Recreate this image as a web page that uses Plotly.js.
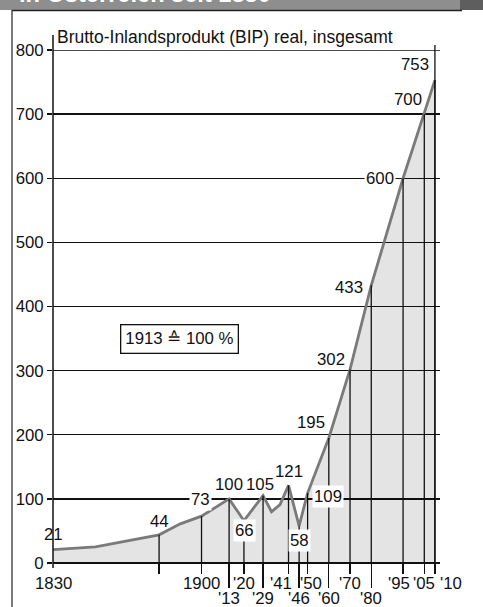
<!DOCTYPE html>
<html><head><meta charset="utf-8">
<script src="https://cdn.plot.ly/plotly-3.0.1.min.js"></script>
<style>html,body{margin:0;padding:0;background:#fff;}#chart{width:483px;height:607px;}</style>
</head><body><div id="chart"></div>
<script>
// ---- data ----
const years = [1830, 1850, 1880, 1890, 1900, 1913, 1920, 1929, 1933, 1937, 1941, 1946, 1950, 1960, 1970, 1980, 1995, 2005, 2010];
const gdpIndex = [21, 25, 44, 61, 73, 100, 66, 105, 80, 91, 121, 58, 109, 195, 302, 433, 600, 700, 753];
const labeledYears = [1830, 1880, 1900, 1913, 1920, 1929, 1941, 1946, 1950, 1960, 1970, 1980, 1995, 2005, 2010];
const tickRow1Years = [1830, 1900, 1920, 1941, 1950, 1970, 1995, 2005, 2010];
const tickRow1Text = ['1830', '1900', "'20", "'41", "'50", "'70", "'95", "'05", "'10"];
const tickRow2Years = [1913, 1929, 1946, 1960, 1980];
const tickRow2Text = ["'13", "'29", "'46", "'60", "'80"];
const yTickValues = [0, 100, 200, 300, 400, 500, 600, 700, 800];
const chartTitle = 'Brutto-Inlandsprodukt (BIP) real, insgesamt';
const headerText = 'in Österreich seit 1830';
const baseNote = '1913 \u2259 100 %';

// ---- styling ----
const FONT = 'Liberation Sans, Arial, Helvetica, sans-serif';
const W = 483, H = 607, ML = 53, MR = 43, MT = 50, MB = 44;
const PW = W - ML - MR, PH = H - MT - MB;
const px2x = p => (p - ML) / PW;       // pixel -> paper x
const py2y = p => (H - MB - p) / PH;   // pixel -> paper y

// label offsets (pixels) per labelled year
const labelStyle = {
  1830: {xa: 'center', xs: 0, ys: 15},
  1880: {xa: 'center', xs: 0, ys: 13},
  1900: {xa: 'center', xs: -1, ys: 17, bg: true},
  1913: {xa: 'center', xs: 0, ys: 14},
  1920: {xa: 'center', xs: 1, ys: -10, bg: true},
  1929: {xa: 'center', xs: -3, ys: 11},
  1941: {xa: 'center', xs: 0, ys: 14},
  1946: {xa: 'center', xs: 0, ys: -15, bg: true},
  1950: {xa: 'left', xs: 4, ys: -3, bg: true},
  1960: {xa: 'right', xs: -2, ys: 15},
  1970: {xa: 'right', xs: -3, ys: 10},
  1980: {xa: 'right', xs: -6, ys: -2},
  1995: {xa: 'right', xs: -7, ys: 0, bg: true},
  2005: {xa: 'right', xs: 0, ys: 15},
  2010: {xa: 'right', xs: -4, ys: 16}
};
const tickShift = {1941: -8, 1950: 3, 1995: -4, 2010: 16};

const valueOf = y => gdpIndex[years.indexOf(y)];
const dropYears = labeledYears.filter(y => y !== years[0]);
const dropValues = dropYears.map(valueOf);
const shortTickYears = dropYears.filter(y => !tickRow2Years.includes(y));
const yMax = yTickValues[yTickValues.length - 1];

const traces = [
  {
    type: 'scatter', mode: 'lines', x: years, y: gdpIndex,
    fill: 'tozeroy', fillcolor: 'rgba(0,0,0,0.105)',
    line: {color: '#7a7a7a', width: 2.8}, hoverinfo: 'skip'
  },
  {
    type: 'scatter', mode: 'markers', x: dropYears, y: dropValues,
    marker: {size: 1, color: 'rgba(0,0,0,0)'},
    error_y: {type: 'data', symmetric: false, array: dropYears.map(() => 0),
              arrayminus: dropValues, width: 0, thickness: 1.3, color: '#111'},
    hoverinfo: 'skip'
  }
];

const annotations = [];
labeledYears.forEach(y => {
  const s = labelStyle[y];
  annotations.push({
    x: y, y: valueOf(y), xref: 'x', yref: 'y', text: String(valueOf(y)),
    showarrow: false, xanchor: s.xa, yanchor: 'middle', xshift: s.xs, yshift: s.ys,
    font: {family: FONT, size: 16.8, color: '#111'},
    bgcolor: s.bg ? '#ffffff' : 'rgba(0,0,0,0)', borderpad: 1
  });
});
tickRow1Years.forEach((y, i) => annotations.push({
  x: y, y: 0, xref: 'x', yref: 'y', text: tickRow1Text[i], showarrow: false,
  xanchor: 'center', yanchor: 'middle', yshift: -20, xshift: tickShift[y] || 0,
  font: {family: FONT, size: 16.8, color: '#111'}
}));
tickRow2Years.forEach((y, i) => annotations.push({
  x: y, y: 0, xref: 'x', yref: 'y', text: tickRow2Text[i], showarrow: false,
  xanchor: 'center', yanchor: 'middle', yshift: -35,
  font: {family: FONT, size: 16.8, color: '#111'}
}));
annotations.push({
  xref: 'paper', yref: 'paper', x: px2x(179.5), y: py2y(338.5), text: baseNote,
  showarrow: false, xanchor: 'center', yanchor: 'middle',
  font: {family: FONT, size: 16.8, color: '#111'},
  bordercolor: '#111', borderwidth: 1.3, borderpad: 4, bgcolor: '#fff'
});
annotations.push({
  xref: 'paper', yref: 'paper', x: px2x(17), y: py2y(9.5), text: '<b>' + headerText + '</b>',
  showarrow: false, xanchor: 'left', yanchor: 'bottom',
  font: {family: FONT, size: 23.6, color: '#ffffff'}
});

const shapes = [
  {type: 'rect', xref: 'paper', yref: 'paper', x0: px2x(0), x1: px2x(483), y0: py2y(10), y1: py2y(0),
   fillcolor: '#8e8e8e', line: {width: 0}, layer: 'below'},
  {type: 'rect', xref: 'paper', yref: 'paper', x0: px2x(460), x1: px2x(483), y0: py2y(10), y1: py2y(0),
   fillcolor: '#5e5e5e', line: {width: 0}, layer: 'below'},
  {type: 'line', xref: 'paper', yref: 'paper', x0: px2x(12), x1: px2x(462), y0: py2y(10.5), y1: py2y(10.5),
   line: {color: '#222', width: 1.5}},
  {type: 'line', xref: 'paper', yref: 'paper', x0: px2x(12), x1: px2x(12), y0: py2y(10), y1: py2y(607),
   line: {color: '#333', width: 1.3}},
  // top frame line at the highest tick value
  {type: 'line', xref: 'paper', yref: 'y', x0: 0, x1: 1, y0: yMax, y1: yMax,
   line: {color: '#111', width: 1.4}},
  // y axis line with overshoot
  {type: 'line', xref: 'paper', yref: 'paper', x0: 0, x1: 0, y0: py2y(568), y1: py2y(35),
   line: {color: '#111', width: 1.5}},
  // last-year line reaching above the frame
  {type: 'line', xref: 'x', yref: 'paper', x0: years[years.length - 1], x1: years[years.length - 1],
   y0: 0, y1: py2y(45), line: {color: '#111', width: 1.3}}
];

const layout = {
  width: W, height: H,
  margin: {l: ML, r: MR, t: MT, b: MB, pad: 0},
  paper_bgcolor: '#ffffff', plot_bgcolor: 'rgba(0,0,0,0)',
  font: {family: FONT, size: 16.8, color: '#111'},
  showlegend: false,
  title: {text: chartTitle, xref: 'container', yref: 'container', x: 57 / W, y: 1 - 37 / H,
          xanchor: 'left', yanchor: 'middle', font: {family: FONT, size: 17.5, color: '#111'}},
  xaxis: {
    range: [1830, 2012.4], showgrid: false, zeroline: false, showline: false,
    tickmode: 'array', tickvals: shortTickYears, ticks: 'outside', ticklen: 10,
    tickwidth: 1.3, tickcolor: '#111', showticklabels: false,
    minor: {tickmode: 'array', tickvals: tickRow2Years, ticks: 'outside', ticklen: 24,
            tickwidth: 1.3, tickcolor: '#111', showgrid: false},
    fixedrange: true
  },
  yaxis: {
    range: [0, 800], tickmode: 'array', tickvals: yTickValues,
    showgrid: true, gridcolor: '#111', gridwidth: 1.3,
    zeroline: true, zerolinecolor: '#111', zerolinewidth: 1.6,
    showline: false, ticks: 'outside', ticklen: 5, tickwidth: 1.3, tickcolor: '#111',
    tickfont: {family: FONT, size: 16.8, color: '#111'}, fixedrange: true
  },
  annotations: annotations,
  shapes: shapes
};

Plotly.newPlot('chart', traces, layout, {staticPlot: true, displayModeBar: false});
</script>
</body></html>
